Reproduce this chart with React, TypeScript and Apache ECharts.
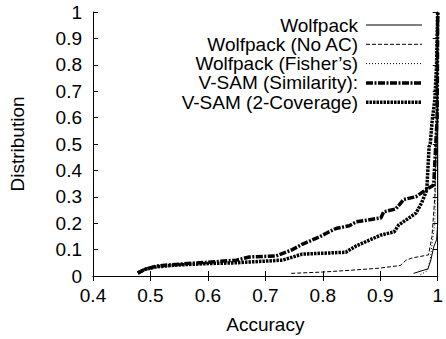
import React, { useEffect, useRef } from "react";
import * as echarts from "echarts";

const seriesNames = [
  "Wolfpack",
  "Wolfpack (No AC)",
  "Wolfpack (Fisher\u2019s)",
  "V-SAM (Similarity):",
  "V-SAM (2-Coverage)",
];

const xTicks = [0.4, 0.5, 0.6, 0.7, 0.8, 0.9, 1];

const wolfpackX = [0.958, 0.983, 0.988, 0.993, 0.998, 1.0, 1.0];
const wolfpackY = [0.01, 0.027, 0.06, 0.11, 0.137, 0.2, 1.0];

const noAcX = [0.745, 0.8, 0.85, 0.9, 0.935, 0.945, 0.955, 0.984, 0.99, 0.995, 0.998, 1.0];
const noAcY = [0.01, 0.015, 0.022, 0.03, 0.04, 0.06, 0.068, 0.08, 0.15, 0.3, 0.6, 1.0];

const fisherX = [0.97, 0.982, 0.987, 0.99, 0.995, 0.997, 0.999];
const fisherY = [0.005, 0.02, 0.06, 0.12, 0.2, 0.5, 1.0];

const simX = [0.478, 0.49, 0.511, 0.55, 0.6, 0.65, 0.672, 0.719, 0.747, 0.764, 0.794, 0.807, 0.823, 0.846, 0.858, 0.901, 0.906, 0.927, 0.941, 0.962, 0.979, 0.993, 0.999, 1.0];
const simY = [0.011, 0.025, 0.038, 0.045, 0.052, 0.06, 0.072, 0.076, 0.1, 0.12, 0.148, 0.163, 0.18, 0.19, 0.205, 0.22, 0.243, 0.254, 0.29, 0.3, 0.326, 0.345, 0.6, 1.0];

const covX = [0.478, 0.49, 0.511, 0.55, 0.6, 0.65, 0.672, 0.73, 0.764, 0.84, 0.858, 0.901, 0.924, 0.932, 0.962, 0.972, 0.981, 0.985, 0.987, 0.99, 0.995, 0.998, 1.0];
const covY = [0.011, 0.025, 0.035, 0.042, 0.047, 0.05, 0.053, 0.06, 0.083, 0.09, 0.114, 0.155, 0.167, 0.193, 0.238, 0.277, 0.326, 0.49, 0.5, 0.58, 0.67, 0.8, 1.0];

const seriesX = [wolfpackX, noAcX, fisherX, simX, covX];
const seriesY = [wolfpackY, noAcY, fisherY, simY, covY];

const lineWidths = [1, 1, 1, 3.5, 3.5];
const lineDashes: (number[] | "solid")[] = ["solid", [4, 2], [1, 2], [7, 1.5, 2, 1.5], [2.5, 1]];

const FONT = "Liberation Sans, Arial, Helvetica, sans-serif";
const FS = 19;

export default function App() {
  const ref = useRef<HTMLDivElement>(null);
  useEffect(() => {
    if (!ref.current) return;
    const chart = echarts.init(ref.current, null, { renderer: "svg" });

    const axisCommon = {
      type: "value" as const,
      axisLine: { show: true, lineStyle: { color: "#000", width: 1 } },
      axisTick: { show: true, inside: true, length: 5, lineStyle: { color: "#000" } },
      splitLine: { show: false },
    };

    const series = seriesNames.map((name, i) => ({
      name,
      type: "line" as const,
      xAxisIndex: 0,
      yAxisIndex: 0,
      showSymbol: false,
      symbol: "none",
      silent: true,
      data: seriesX[i].map((x, j) => [x, seriesY[i][j]]),
      lineStyle: { color: "#000", width: lineWidths[i], type: lineDashes[i] as any },
      z: 2 + i,
    }));

    const legendRight = 358;
    const legendTop = 25;
    const legendGap = 19.3;
    const graphic: any[] = [];
    seriesNames.forEach((name, i) => {
      const y = legendTop + i * legendGap;
      graphic.push({
        type: "text",
        x: legendRight,
        y,
        style: {
          text: name,
          fontSize: FS,
          fontFamily: FONT,
          fill: "#000",
          textAlign: "right",
          textVerticalAlign: "middle",
        },
      });
      graphic.push({
        type: "line",
        shape: { x1: 366, y1: y, x2: 422, y2: y },
        style: {
          stroke: "#000",
          lineWidth: lineWidths[i],
          lineDash: lineDashes[i] === "solid" ? null : lineDashes[i],
        },
      });
    });

    chart.setOption({
      animation: false,
      backgroundColor: "#fff",
      grid: { left: 93, right: 7, top: 12, bottom: 63 },
      xAxis: [
        {
          ...axisCommon,
          position: "bottom",
          min: xTicks[0],
          max: xTicks[xTicks.length - 1],
          interval: 0.1,
          axisLabel: { fontSize: FS, fontFamily: FONT, color: "#000", margin: 10 },
          name: "Accuracy",
          nameLocation: "middle",
          nameGap: 39,
          nameTextStyle: { fontSize: FS, fontFamily: FONT, color: "#000" },
        },
        {
          ...axisCommon,
          position: "top",
          min: xTicks[0],
          max: xTicks[xTicks.length - 1],
          interval: 0.1,
          axisLabel: { show: false },
        },
      ],
      yAxis: [
        {
          ...axisCommon,
          position: "left",
          min: 0,
          max: 1,
          interval: 0.1,
          axisLabel: { fontSize: FS, fontFamily: FONT, color: "#000", margin: 11 },
          name: "Distribution",
          nameLocation: "middle",
          nameGap: 66,
          nameTextStyle: { fontSize: FS, fontFamily: FONT, color: "#000" },
        },
        {
          ...axisCommon,
          position: "right",
          min: 0,
          max: 1,
          interval: 0.1,
          axisLabel: { show: false },
        },
      ],
      series,
      graphic,
    });
    return () => chart.dispose();
  }, []);
  return (
    <div
      ref={ref}
      style={{ position: "fixed", left: 0, top: 0, width: 446, height: 339, background: "#fff" }}
    />
  );
}
